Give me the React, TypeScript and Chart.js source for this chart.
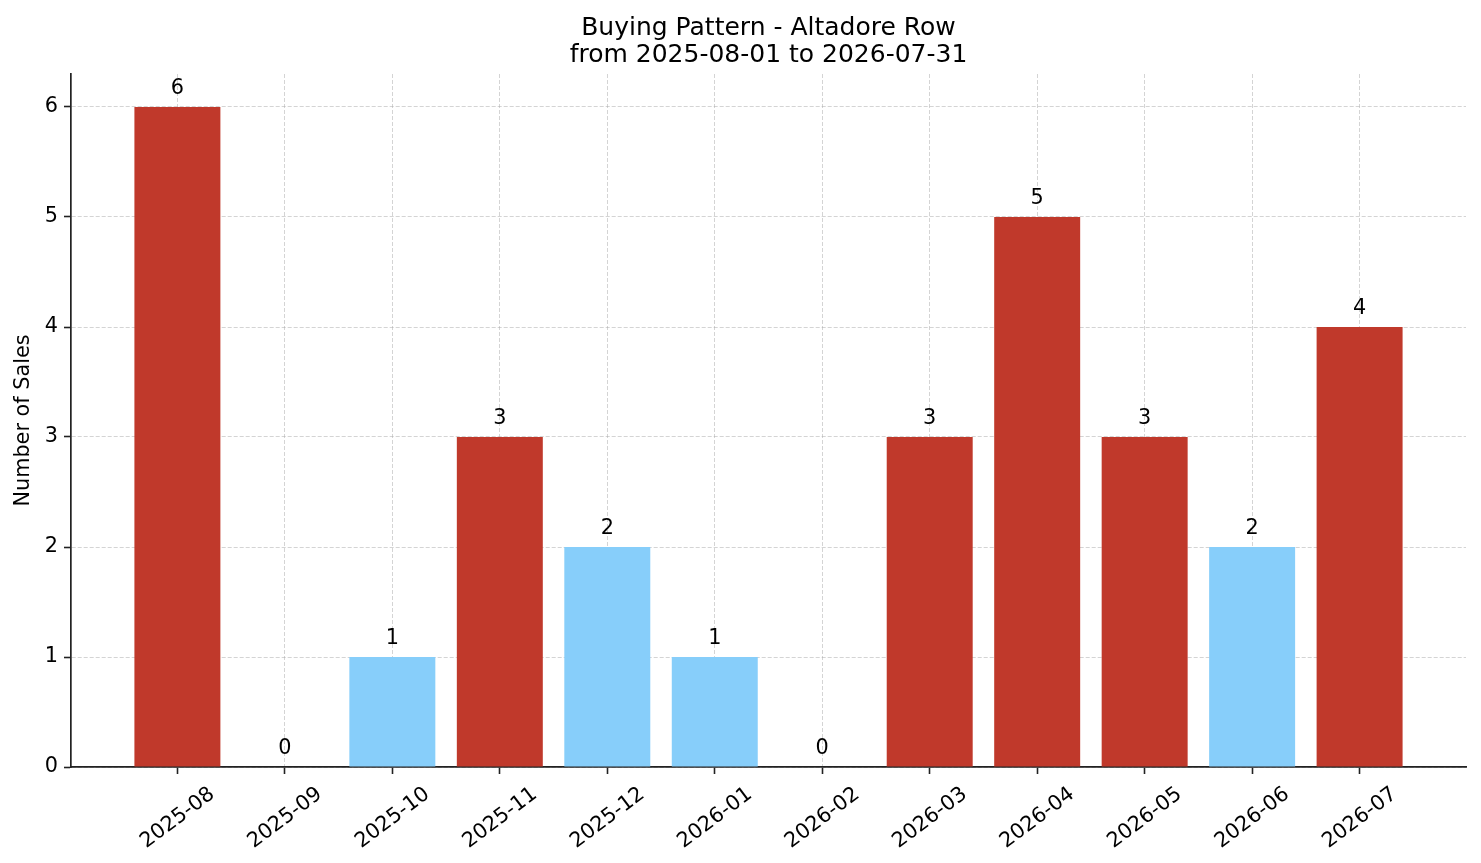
import React, { useEffect, useRef } from 'react'
import { Chart, ChartConfiguration, registerables } from 'chart.js'

Chart.register(...registerables)

const months = [
  '2025-08', '2025-09', '2025-10', '2025-11', '2025-12', '2026-01',
  '2026-02', '2026-03', '2026-04', '2026-05', '2026-06', '2026-07',
]
const sales = [6, 0, 1, 3, 2, 1, 0, 3, 5, 3, 2, 4]
const titleLines = ['Buying Pattern - Altadore Row', 'from 2025-08-01 to 2026-07-31']

const RED = '#c0392b'
const BLUE = '#87cefa'
const FONT = "'DejaVu Sans', sans-serif"
const GRID = 'rgba(170,170,170,0.5)'

// value labels above each bar
const barLabels = {
  id: 'barLabels',
  afterDatasetsDraw(chart: Chart) {
    const ctx = chart.ctx
    const meta = chart.getDatasetMeta(0)
    ctx.save()
    ctx.font = `20.8px ${FONT}`
    ctx.fillStyle = '#000'
    ctx.textAlign = 'center'
    ctx.textBaseline = 'alphabetic'
    meta.data.forEach((el: any, i: number) => {
      ctx.fillText(String(sales[i]), el.x, el.y - 13)
    })
    ctx.restore()
  },
}

// title centred over the plot area, like matplotlib does
const plotTitle = {
  id: 'plotTitle',
  afterDraw(chart: Chart) {
    const { ctx, chartArea } = chart
    const cx = (chartArea.left + chartArea.right) / 2
    ctx.save()
    ctx.font = `25px ${FONT}`
    ctx.fillStyle = '#000'
    ctx.textAlign = 'center'
    ctx.textBaseline = 'middle'
    titleLines.forEach((line, i) => ctx.fillText(line, cx, 28 + i * 27))
    ctx.restore()
  },
}

export default function App() {
  const canvasRef = useRef<HTMLCanvasElement>(null)

  useEffect(() => {
    if (!canvasRef.current) return
    document.body.style.margin = '0'

    const config: ChartConfiguration = {
      type: 'bar',
      data: {
        datasets: [{
          label: 'Sales',
          data: sales.map((v, i) => ({ x: i, y: v })),
          backgroundColor: sales.map(v => (v >= 3 ? RED : BLUE)),
          borderWidth: 0,
          barPercentage: 0.8,
          categoryPercentage: 1,
        }],
      },
      options: {
        responsive: false,
        animation: false,
        layout: { padding: { left: 0, right: 15, top: 74, bottom: 0 } },
        plugins: {
          legend: { display: false },
          tooltip: { enabled: false },
          title: { display: false },
        },
        scales: {
          x: {
            type: 'linear',
            min: -0.99,
            max: 11.99,
            offset: false,
            z: 1,
            afterFit: (scale: any) => { scale.height = 96 },
            border: { display: true, color: '#222', width: 1.7, dash: [4, 2] },
            grid: {
              offset: false,
              color: GRID,
              lineWidth: 1,
              drawTicks: true,
              tickLength: 7,
              tickColor: '#222',
              tickWidth: 1.6,
              tickBorderDash: [],
            },
            ticks: {
              stepSize: 1,
              includeBounds: false,
              autoSkip: false,
              minRotation: 37,
              maxRotation: 37,
              labelOffset: 35,
              padding: 8,
              color: '#000',
              font: { family: FONT, size: 20.8 },
              callback: (value: any) => months[Number(value)] ?? '',
            },
          },
          y: {
            min: 0,
            max: 6.3,
            z: 1,
            afterFit: (scale: any) => { scale.width = 71 },
            border: { display: true, color: '#222', width: 1.7, dash: [4, 2] },
            grid: {
              color: GRID,
              lineWidth: 1,
              drawTicks: true,
              tickLength: 7,
              tickColor: '#222',
              tickWidth: 1.6,
              tickBorderDash: [],
            },
            ticks: {
              stepSize: 1,
              includeBounds: false,
              padding: 6,
              color: '#000',
              font: { family: FONT, size: 20.8 },
            },
            title: {
              display: true,
              text: 'Number of Sales',
              color: '#000',
              font: { family: FONT, size: 20.8 },
              padding: { top: 11, bottom: 0 },
            },
          },
        },
      },
      plugins: [barLabels, plotTitle],
    }

    const chart = new Chart(canvasRef.current, config)
    return () => chart.destroy()
  }, [])

  return (
    <div style={{ position: 'absolute', left: 0, top: 0, width: 1481, height: 863, background: '#fff' }}>
      <canvas ref={canvasRef} width={1481} height={863} style={{ display: 'block' }} />
    </div>
  )
}
